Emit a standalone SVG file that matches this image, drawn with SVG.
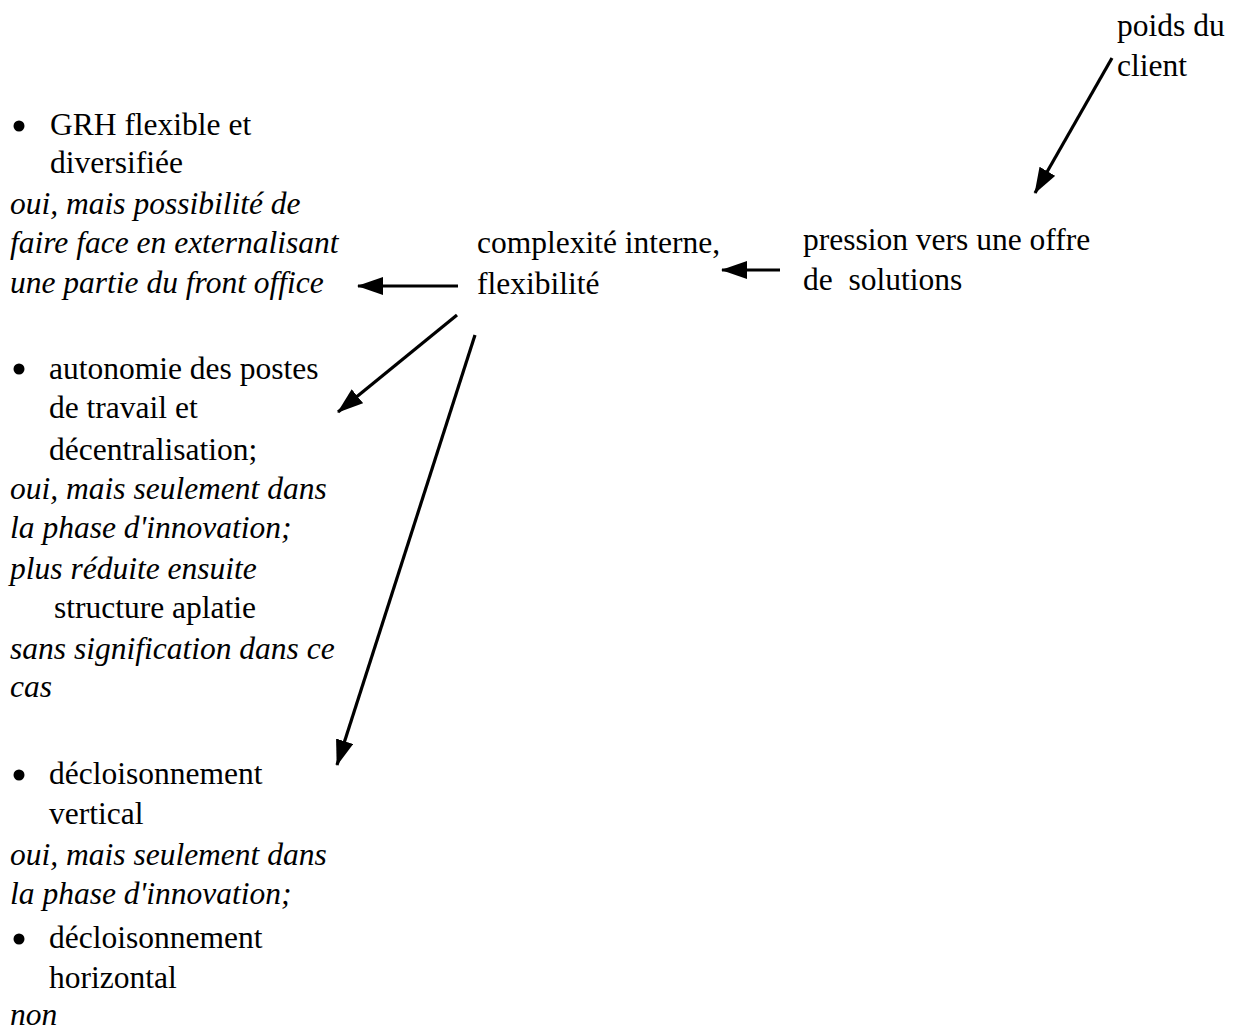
<svg xmlns="http://www.w3.org/2000/svg" width="1247" height="1031" viewBox="0 0 1247 1031">
<style>
text{font-family:"Liberation Serif","Times New Roman",serif;font-size:31.5px;fill:#000}
.i{font-style:italic}
.c{stroke:#000;stroke-width:3.2;fill:none;marker-end:url(#ah)}
</style>
<defs>
<marker id="ah" markerUnits="userSpaceOnUse" markerWidth="28" markerHeight="20" refX="25" refY="9" orient="auto">
<path d="M0,0 L26,9 L0,18 z" fill="#000"/>
</marker>
</defs>
<rect width="1247" height="1031" fill="#fff"/>
<g id="poids">
<text x="1117" y="36">poids du</text>
<text x="1117" y="76">client</text>
</g>
<g id="pression">
<text x="803" y="250">pression vers une offre</text>
<text x="803" y="290" xml:space="preserve">de  solutions</text>
</g>
<g id="complexite">
<text x="477" y="253">complexité interne,</text>
<text x="477" y="294">flexibilité</text>
</g>
<g id="grh">
<circle cx="19" cy="126" r="5.5"/>
<text x="50" y="135">GRH flexible et</text>
<text x="50" y="173">diversifiée</text>
<text class="i" x="10" y="214">oui, mais possibilité de</text>
<text class="i" x="10" y="253">faire face en externalisant</text>
<text class="i" x="10" y="293">une partie du front office</text>
</g>
<g id="autonomie">
<circle cx="19" cy="369" r="5.5"/>
<text x="49" y="379">autonomie des postes</text>
<text x="49" y="418">de travail et</text>
<text x="49" y="460">décentralisation;</text>
<text class="i" x="10" y="499">oui, mais seulement dans</text>
<text class="i" x="10" y="538">la phase d'innovation;</text>
<text class="i" x="10" y="579">plus réduite ensuite</text>
<text x="54" y="618">structure aplatie</text>
<text class="i" x="10" y="659">sans signification dans ce</text>
<text class="i" x="10" y="697">cas</text>
</g>
<g id="vertical">
<circle cx="19" cy="775" r="5.5"/>
<text x="49" y="784">décloisonnement</text>
<text x="49" y="824">vertical</text>
<text class="i" x="10" y="865">oui, mais seulement dans</text>
<text class="i" x="10" y="904">la phase d'innovation;</text>
</g>
<g id="horizontal">
<circle cx="19" cy="939" r="5.5"/>
<text x="49" y="948">décloisonnement</text>
<text x="49" y="988">horizontal</text>
<text class="i" x="10" y="1025">non</text>
</g>
<g id="connectors">
<line class="c" x1="1112" y1="58" x2="1035" y2="193"/>
<line class="c" x1="780" y1="270" x2="722" y2="270"/>
<line class="c" x1="458" y1="286" x2="358" y2="286"/>
<line class="c" x1="457" y1="315" x2="338" y2="412"/>
<line class="c" x1="475" y1="335" x2="337" y2="765"/>
</g>
</svg>
